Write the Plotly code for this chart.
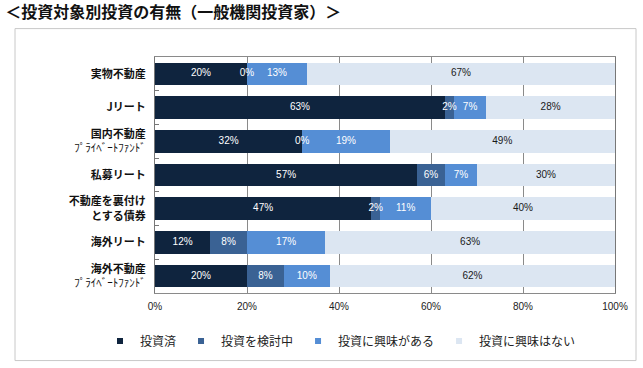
import plotly.graph_objects as go

categories = [
    "実物不動産",
    "Jリート",
    "国内不動産<br><span style='font-size:11px;font-weight:normal'>ﾌﾟﾗｲﾍﾞｰﾄﾌｧﾝﾄﾞ</span>",
    "私募リート",
    "不動産を裏付け<br>とする債券",
    "海外リート",
    "海外不動産<br><span style='font-size:11px;font-weight:normal'>ﾌﾟﾗｲﾍﾞｰﾄﾌｧﾝﾄﾞ</span>",
]
series_names = ["投資済", "投資を検討中", "投資に興味がある", "投資に興味はない"]
invested = [20, 63, 32, 57, 47, 12, 20]
considering = [0, 2, 0, 6, 2, 8, 8]
interested = [13, 7, 19, 7, 11, 17, 10]
not_interested = [67, 28, 49, 30, 40, 63, 62]
x_ticks = [0, 20, 40, 60, 80, 100]

values = [invested, considering, interested, not_interested]
colors = ["#0f243e", "#3a6294", "#558ed5", "#dce6f2"]
label_colors = ["#ffffff", "#ffffff", "#ffffff", "#1a1a1a"]

FONT = "Noto Sans CJK JP"
NUMFONT = "Liberation Sans, Arial, sans-serif"

fig = go.Figure()

# bars
for name, vals, col in zip(series_names, values, colors):
    fig.add_trace(go.Bar(
        y=categories, x=vals, orientation="h", name=name,
        marker=dict(color=col, line=dict(width=0)),
        showlegend=False, hoverinfo="x+name",
    ))

# labels at segment centres
starts = [0] * len(categories)
for vals, tc in zip(values, label_colors):
    centers = [s + v / 2 for s, v in zip(starts, vals)]
    fig.add_trace(go.Scatter(
        y=categories, x=centers, mode="text",
        text=[f"{v}%" for v in vals],
        textfont=dict(family=NUMFONT, size=10, color=tc),
        textposition="middle center",
        showlegend=False, hoverinfo="skip", cliponaxis=False,
    ))
    starts = [s + v for s, v in zip(starts, vals)]

# legend entries with small square markers
for name, col in zip(series_names, colors):
    fig.add_trace(go.Scatter(
        x=[None], y=[None], mode="markers", name=name,
        marker=dict(symbol="square", size=6, color=col),
    ))

fig.update_layout(
    width=643, height=368,
    margin=dict(l=155, r=28, t=57, b=70),
    paper_bgcolor="white", plot_bgcolor="white",
    barmode="stack", bargap=0.33,
    font=dict(family=FONT, color="#222222"),
    title=dict(
        text="<b>＜投資対象別投資の有無（一般機関投資家）＞</b>",
        x=0.008, xanchor="left", y=0.967, yanchor="middle",
        font=dict(family=FONT, size=16, color="#111111"),
    ),
    legend=dict(
        orientation="h", x=(100 - 155) / 460, xanchor="left",
        y=-0.203, yanchor="middle", traceorder="normal",
        font=dict(family=FONT, size=12, color="#222222"),
        itemwidth=30, tracegroupgap=0, bgcolor="rgba(0,0,0,0)",
    ),
    shapes=[dict(
        type="rect", xref="paper", yref="paper",
        x0=(15 - 155) / 460, x1=(636 - 155) / 460,
        y0=(298 - 367) / 241, y1=(298 - 28) / 241,
        line=dict(color="#c8c8c8", width=1), fillcolor="rgba(0,0,0,0)",
        layer="below",
    )],
)

fig.update_xaxes(
    range=[0, 100], tickvals=x_ticks, ticktext=[f"{t}%" for t in x_ticks],
    showgrid=True, gridcolor="#8a8a8a", gridwidth=1,
    showline=True, linecolor="#8a8a8a", linewidth=1, mirror=True,
    ticks="", zeroline=False, automargin=False,
    tickfont=dict(family=NUMFONT, size=10, color="#222222"),
    ticklabelstandoff=4,
)
fig.update_yaxes(
    autorange="reversed", type="category", automargin=False,
    showline=True, linecolor="#777777", linewidth=1, mirror=True,
    ticks="inside", tickson="boundaries", ticklen=4, tickcolor="#777777",
    showgrid=False,
    tickfont=dict(family=FONT, size=11, color="#111111", weight="bold"),
    ticklabelstandoff=6,
)

fig.write_html(
    "out.html",
    config={"displayModeBar": False},
    post_script="document.body.style.margin='0';document.body.style.overflow='hidden';",
)
